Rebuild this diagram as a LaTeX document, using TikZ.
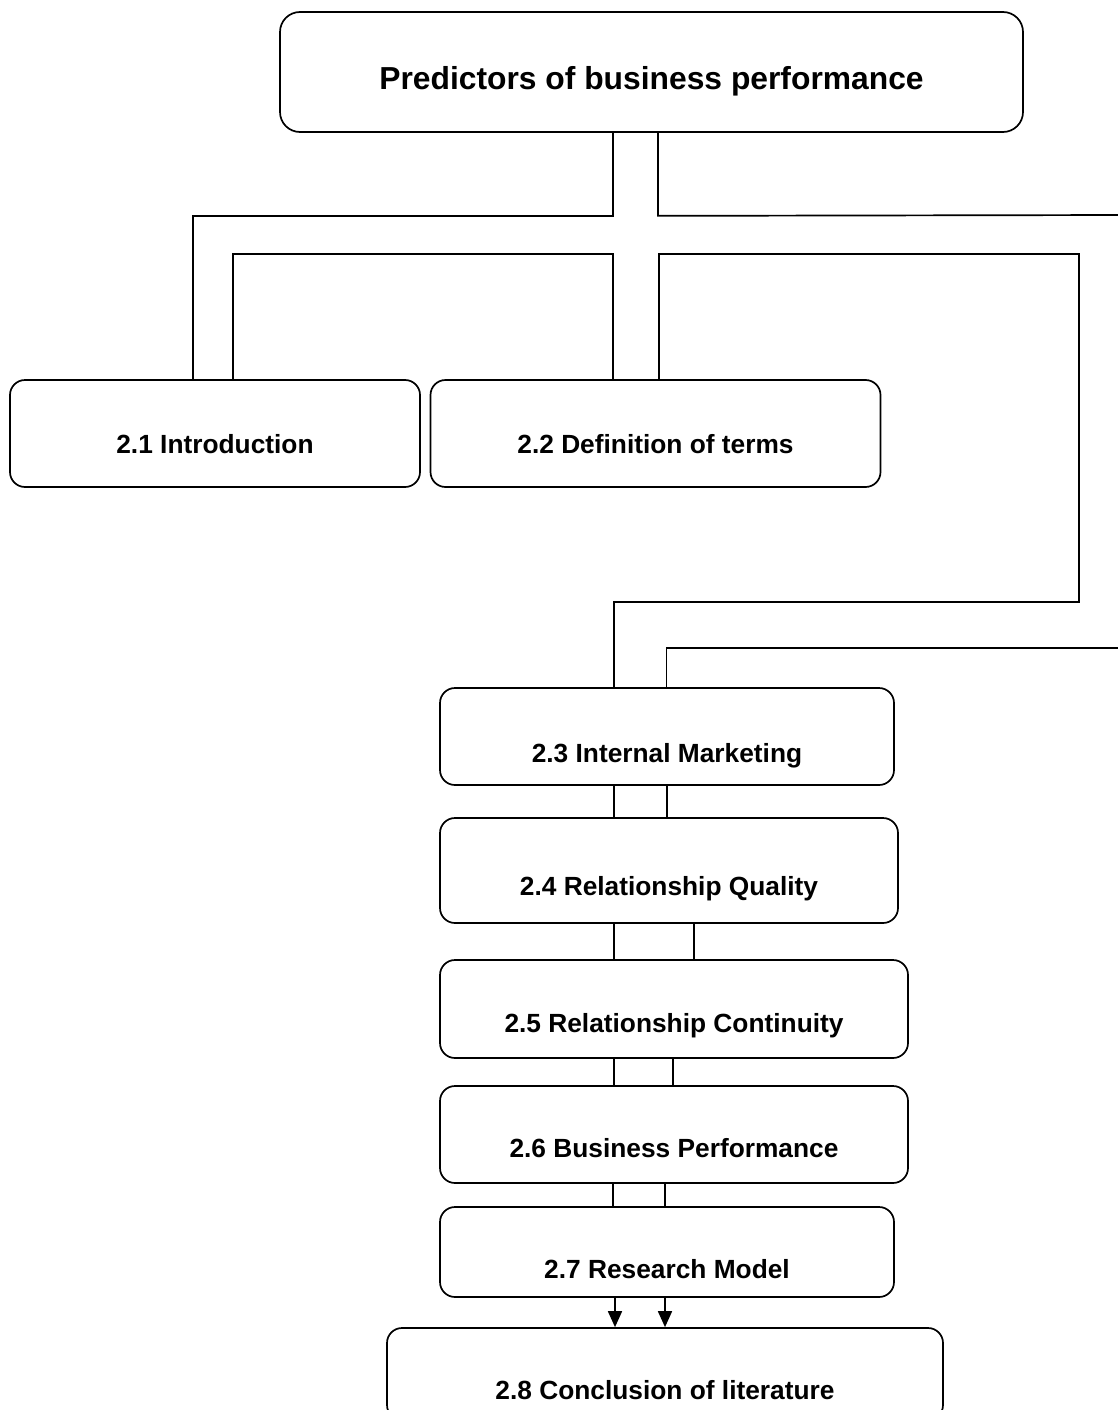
\documentclass[tikz,border=0pt]{standalone}
\usepackage{fontspec}
\setmainfont{Liberation Sans}
\usetikzlibrary{arrows.meta}
\begin{document}
\begin{tikzpicture}[x=1pt, y=-1pt,
  box/.style={draw, line width=1.7pt, rounded corners=15pt, inner sep=0pt,
    text depth=0pt, font=\bfseries\fontsize{26.3}{30}\selectfont},
  titlebox/.style={box, rounded corners=20pt,
    font=\bfseries\fontsize{31.8}{36}\selectfont},
  link/.style={line width=1.7pt},
  feed/.style={link, -{Triangle[length=16pt, width=14pt]}}]

% page
\path[fill=white, use as bounding box] (0,0) rectangle (1118,1410);

% chapter outline boxes (text height sets where the baseline sits)
\node[titlebox, minimum width=743pt, minimum height=120pt, text height=36pt]
  (top) at (651.5,72) {Predictors of business performance};
\node[box, minimum width=410pt, minimum height=107pt, text height=39pt]
  (intro) at (215,433.5) {2.1 Introduction};
\node[box, minimum width=450pt, minimum height=107pt, text height=39pt]
  (defn) at (655.5,433.5) {2.2 Definition of terms};
\node[box, minimum width=454pt, minimum height=97pt, text height=51pt]
  (im) at (667,736.5) {2.3 Internal Marketing};
\node[box, minimum width=458pt, minimum height=105pt, text height=50pt]
  (rq) at (669,870.5) {2.4 Relationship Quality};
\node[box, minimum width=468pt, minimum height=98pt, text height=46pt]
  (rc) at (674,1009) {2.5 Relationship Continuity};
\node[box, minimum width=468pt, minimum height=97pt, text height=45pt]
  (bp) at (674,1134.5) {2.6 Business Performance};
\node[box, minimum width=454pt, minimum height=90pt, text height=52pt]
  (rm) at (667,1252) {2.7 Research Model};
\node[box, minimum width=556pt, minimum height=92pt, text height=50pt]
  (concl) at (665,1374) {2.8 Conclusion of literature};

% free ends and bends of the outline ribbons
\coordinate (offA) at (1125,215);
\coordinate (offB) at (1125,648);
\coordinate (bendR) at (1079,602);

% left branch: title to 2.1, then back from 2.1 to 2.2
\draw[link] ([xshift=-38.5pt]top.south) -- ++(0,83) -| ([xshift=-22pt]intro.north);
\draw[link] ([xshift=18pt]intro.north) -- ++(0,-125) -| ([xshift=-42.5pt]defn.north);

% right branch: title off to the right, 2.2 round to 2.3, and back in to 2.3
\draw[link] ([xshift=6.5pt]top.south) -- ++(0,83) -- (offA);
\draw[link] ([xshift=3.5pt]defn.north) -- ++(0,-125) -| (bendR)
  -| ([xshift=-53pt]im.north);
\draw[link] (offB) -| ([xshift=-0.5pt]im.north);

% double links down the chain of sections
\foreach \a/\b/\l/\r in {im/rq/-53/0, rq/rc/-55/25, rc/bp/-60/-1, bp/rm/-61/-9} {
  \draw[link] ([xshift=\l pt]\a.south) -- ([xshift=\l pt]\a.south |- \b.north);
  \draw[link] ([xshift=\r pt]\a.south) -- ([xshift=\r pt]\a.south |- \b.north);
}

% arrows into the conclusion
\draw[feed] ([xshift=-52pt]rm.south) -- ([xshift=-52pt]rm.south |- concl.north);
\draw[feed] ([xshift=-2pt]rm.south) -- ([xshift=-2pt]rm.south |- concl.north);

\end{tikzpicture}
\end{document}
